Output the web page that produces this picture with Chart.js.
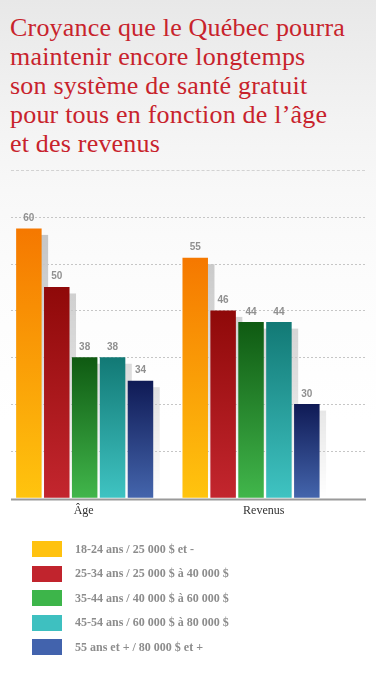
<!DOCTYPE html>
<html lang="fr">
<head>
<meta charset="utf-8">
<script src="https://cdn.jsdelivr.net/npm/chart.js@4.4.1/dist/chart.umd.min.js"></script>
<style>
  html, body { margin: 0; padding: 0; }
  body {
    width: 376px; height: 686px; overflow: hidden; position: relative;
    background: linear-gradient(#e8e8e8 0px, #f3f3f3 120px, #f8f8f8 190px, #fcfcfc 280px, #ffffff 420px);
  }
  #title {
    position: absolute; left: 10px; top: 12.7px;
    font-family: "Liberation Serif", serif; font-size: 26px; line-height: 29px;
    letter-spacing: 0.2px; color: #c8232c; white-space: nowrap;
  }
  #sep {
    position: absolute; left: 11px; top: 170px; width: 354px; height: 0;
    border-top: 1px dashed #d2d2d2;
  }
  #chart { position: absolute; left: 0; top: 0; }
  .lg-row { position: absolute; left: 32px; height: 16px; display: flex; align-items: center; }
  .lg-sw { width: 30px; height: 16px; margin-right: 13px; }
  .lg-tx { font-family: "Liberation Serif", serif; font-weight: bold; font-size: 12px; color: #8c8c8c; white-space: nowrap; }
</style>
</head>
<body>
<div id="title">Croyance que le Québec pourra<br>maintenir encore longtemps<br>son système de santé gratuit<br>pour tous en fonction de l’âge<br>et des revenus</div>
<div id="sep"></div>
<canvas id="chart" width="376" height="686"></canvas>
<div id="legend"></div>
<script>
// ---- Data ----
const categories = ['Âge', 'Revenus'];
const seriesLabels = [
  '18-24 ans / 25 000 $ et -',
  '25-34 ans / 25 000 $ à 40 000 $',
  '35-44 ans / 40 000 $ à 60 000 $',
  '45-54 ans / 60 000 $ à 80 000 $',
  '55 ans et + / 80 000 $ et +'
];
const values1824 = [60, 55];
const values2534 = [50, 46];
const values3544 = [38, 44];
const values4554 = [38, 44];
const values55plus = [34, 30];
const seriesValues = [values1824, values2534, values3544, values4554, values55plus];

// ---- Styles ----
const legendColors = ['#ffc20f', '#c1242d', '#3db54a', '#3ec0c0', '#4263ad'];
const gradTop =    ['#f57800', '#8f0909', '#0f5a12', '#127975', '#0f1a55'];
const gradBottom = ['#ffc40e', '#c3262e', '#41b64b', '#3fc3c2', '#4465ac'];
const yMin = 14, yMax = 62, yStep = 8;
const labelShift = [-1, 12.7];

function barGradient(i) {
  return function(ctx) {
    const chart = ctx.chart;
    const y = chart.scales && chart.scales.y;
    if (!chart.chartArea || !y || ctx.raw == null) return gradBottom[i];
    const top = y.getPixelForValue(ctx.raw);
    const bottom = y.getPixelForValue(y.min);
    const g = chart.ctx.createLinearGradient(0, top, 0, bottom);
    g.addColorStop(0, gradTop[i]);
    g.addColorStop(1, gradBottom[i]);
    return g;
  };
}

const decorPlugin = {
  id: 'decor',
  beforeDatasetsDraw(chart) {
    const c = chart.ctx, y = chart.scales.y, area = chart.chartArea;
    // shadows
    const sg = c.createLinearGradient(0, area.top, 0, area.bottom);
    sg.addColorStop(0, 'rgba(0,0,0,0.22)');
    sg.addColorStop(0.6, 'rgba(0,0,0,0.12)');
    sg.addColorStop(1, 'rgba(0,0,0,0.0)');
    const d = 6.5;
    c.save();
    c.fillStyle = sg;
    chart.data.datasets.forEach((ds, di) => {
      chart.getDatasetMeta(di).data.forEach(el => {
        const p = el.getProps(['x', 'y', 'base', 'width'], true);
        c.fillRect(p.x - p.width / 2 + d, p.y + d, p.width, p.base - p.y - d);
      });
    });
    // gridlines
    c.strokeStyle = '#c6c6c6';
    c.lineWidth = 1;
    c.setLineDash([2, 2]);
    const ticks = (y.ticks && y.ticks.length) ? y.ticks.map(t => t.value) : [];
    ticks.forEach(v => {
      if (v <= y.min) return;
      const py = Math.round(y.getPixelForValue(v)) + 0.5;
      c.beginPath(); c.moveTo(11, py); c.lineTo(366, py); c.stroke();
    });
    c.restore();
  },
  afterDatasetsDraw(chart) {
    const c = chart.ctx, y = chart.scales.y, x = chart.scales.x;
    c.save();
    // axis line
    const by = y.getPixelForValue(y.min) + 1.7;
    c.strokeStyle = '#9a9a9a'; c.lineWidth = 2;
    c.beginPath(); c.moveTo(11, by); c.lineTo(366, by); c.stroke();
    // value labels
    c.fillStyle = '#909090';
    c.font = 'bold 10px "Liberation Sans", Arial, sans-serif';
    c.textAlign = 'center'; c.textBaseline = 'alphabetic';
    chart.data.datasets.forEach((ds, di) => {
      chart.getDatasetMeta(di).data.forEach((el, i) => {
        c.fillText(String(ds.data[i]), el.x, el.y - 7.5);
      });
    });
    // category labels
    c.fillStyle = '#333333';
    c.font = '12px "Liberation Serif", serif';
    chart.data.labels.forEach((lab, i) => {
      c.fillText(lab, x.getPixelForValue(i) + labelShift[i], 514);
    });
    c.restore();
  }
};

new Chart(document.getElementById('chart'), {
  type: 'bar',
  data: {
    labels: categories,
    datasets: seriesValues.map((vals, i) => ({
      label: seriesLabels[i],
      data: vals,
      backgroundColor: barGradient(i),
      borderWidth: 0,
      categoryPercentage: 0.8386,
      barPercentage: 0.914
    }))
  },
  options: {
    responsive: false,
    devicePixelRatio: 1,
    animation: false,
    layout: { padding: { top: 216.7, left: 1.5, right: 41.8, bottom: 188.2 } },
    plugins: { legend: { display: false }, tooltip: { enabled: false }, title: { display: false } },
    scales: {
      x: { display: false },
      y: { display: false, min: yMin, max: yMax, ticks: { stepSize: yStep } }
    }
  },
  plugins: [decorPlugin]
});

// ---- HTML legend ----
const legend = document.getElementById('legend');
seriesLabels.forEach((lab, i) => {
  const row = document.createElement('div');
  row.className = 'lg-row';
  row.style.top = (541 + i * 24.6) + 'px';
  const sw = document.createElement('div');
  sw.className = 'lg-sw';
  sw.style.background = legendColors[i];
  const tx = document.createElement('span');
  tx.className = 'lg-tx';
  tx.textContent = lab;
  row.appendChild(sw); row.appendChild(tx);
  legend.appendChild(row);
});
</script>
</body>
</html>
